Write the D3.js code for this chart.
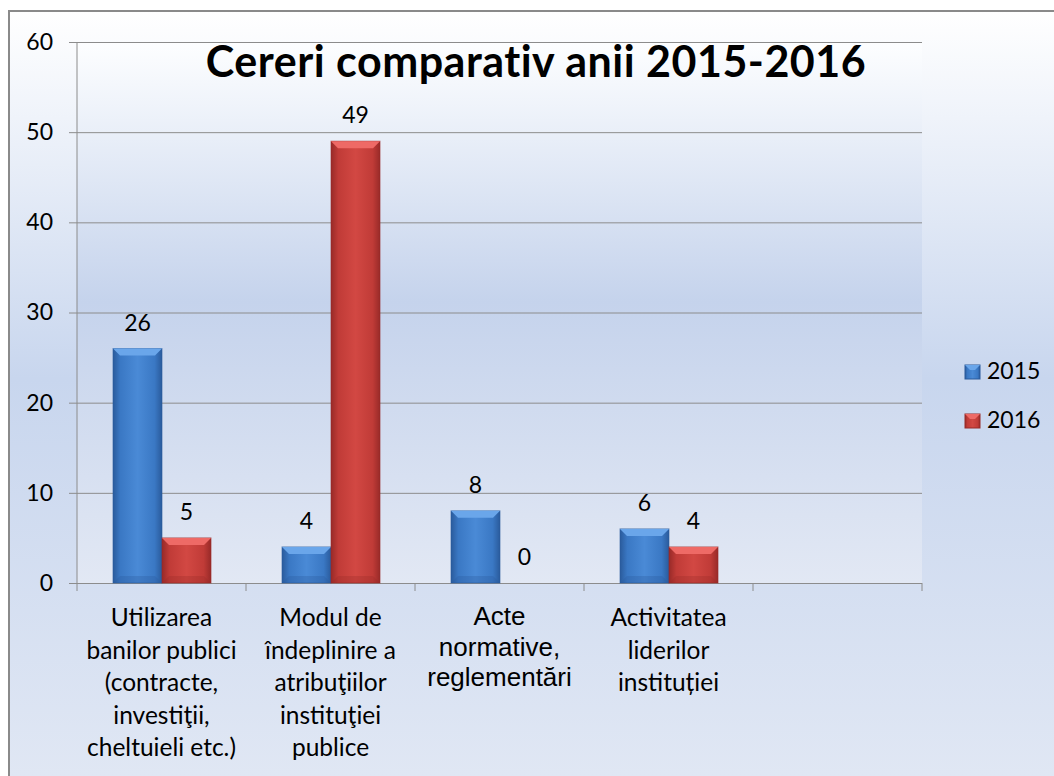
<!DOCTYPE html>
<html>
<head>
<meta charset="utf-8">
<script src="https://cdn.jsdelivr.net/npm/d3@7"></script>
<style>
  body { margin: 0; background: #fff; }
  svg { display: block; }
</style>
</head>
<body>
<div class="chart"></div>
<script>
// data
const categories = [
  ["Utilizarea", "banilor publici", "(contracte,", "investiţii,", "cheltuieli etc.)"],
  ["Modul de", "îndeplinire a", "atribuţiilor", "instituţiei", "publice"],
  ["Acte", "normative,", "reglementări"],
  ["Activitatea", "liderilor", "instituției"],
  []
];
const seriesNames = ["2015", "2016"];
const values2015 = [26, 4, 8, 6, null];
const values2016 = [5, 49, 0, 4, null];
const yTicks = [0, 10, 20, 30, 40, 50, 60];
const title = "Cereri comparativ anii 2015-2016";

const width = 1054;
const height = 776;
const plot = { left: 77, right: 922, top: 42, bottom: 583 };
const font = "Lato, 'Open Sans', sans-serif";

const svg = d3.select(".chart")
  .append("svg")
  .attr("width", width)
  .attr("height", height);

const defs = svg.append("defs");

// background gradients
const bg = defs.append("linearGradient").attr("id", "bg")
  .attr("x1", 0).attr("y1", 0).attr("x2", 0).attr("y2", 1);
bg.append("stop").attr("offset", "0%").attr("stop-color", "#ffffff");
bg.append("stop").attr("offset", "48%").attr("stop-color", "#c8d6ee");
bg.append("stop").attr("offset", "100%").attr("stop-color", "#e0e7f4");

const pg = defs.append("linearGradient").attr("id", "plotbg")
  .attr("x1", 0).attr("y1", 0).attr("x2", 0).attr("y2", 1);
pg.append("stop").attr("offset", "0%").attr("stop-color", "#fdfeff");
pg.append("stop").attr("offset", "48%").attr("stop-color", "#c5d3ec");
pg.append("stop").attr("offset", "100%").attr("stop-color", "#e2e8f4");

// bar gradients (left-right shading)
const barColors = {
  "2015": { light: "#4a8ad6", mid: "#3a78c4", dark: "#2a5b9c", top: "#6aa6ea" },
  "2016": { light: "#d24843", mid: "#c03b37", dark: "#982a28", top: "#ee6a66" }
};
seriesNames.forEach(s => {
  const g = defs.append("linearGradient").attr("id", "bar" + s)
    .attr("x1", 0).attr("y1", 0).attr("x2", 1).attr("y2", 0);
  g.append("stop").attr("offset", "0%").attr("stop-color", barColors[s].dark);
  g.append("stop").attr("offset", "15%").attr("stop-color", barColors[s].mid);
  g.append("stop").attr("offset", "50%").attr("stop-color", barColors[s].light);
  g.append("stop").attr("offset", "85%").attr("stop-color", barColors[s].mid);
  g.append("stop").attr("offset", "100%").attr("stop-color", barColors[s].dark);
});

svg.append("rect")
  .attr("x", 9).attr("y", 11)
  .attr("width", width - 9).attr("height", height - 11)
  .attr("fill", "url(#bg)");

svg.append("rect")
  .attr("x", plot.left).attr("y", plot.top)
  .attr("width", plot.right - plot.left).attr("height", plot.bottom - plot.top)
  .attr("fill", "url(#plotbg)");

// outer frame (only top and left visible)
svg.append("path")
  .attr("d", `M9,${height} V11 H${width}`)
  .attr("fill", "none")
  .attr("stroke", "#8a8a8a")
  .attr("stroke-width", 2);

// scales
const x0 = d3.scaleBand()
  .domain(d3.range(categories.length))
  .range([plot.left, plot.right])
  .padding(0);

const bw = x0.bandwidth();
const x1 = d3.scaleBand()
  .domain(seriesNames)
  .range([bw * 0.213, bw * 0.213 + bw * 0.58])
  .padding(0);

const y = d3.scaleLinear()
  .domain([0, 60])
  .range([plot.bottom, plot.top]);

// gridlines + y axis
const yAxis = svg.append("g")
  .attr("transform", `translate(${plot.left},0)`)
  .call(d3.axisLeft(y).tickValues(yTicks).tickSize(8).tickPadding(16));
yAxis.select(".domain").remove();
yAxis.selectAll(".tick line")
  .attr("x2", plot.right - plot.left)
  .attr("x1", -8)
  .attr("stroke", "#8c8c8c");
yAxis.selectAll(".tick text")
  .attr("font-family", font)
  .attr("font-size", 23)
  .attr("fill", "#000");

svg.append("line")
  .attr("x1", plot.left).attr("x2", plot.left)
  .attr("y1", plot.top).attr("y2", plot.bottom)
  .attr("stroke", "#8c8c8c");

// category tick marks below the axis
svg.append("g")
  .attr("transform", `translate(0,${plot.bottom})`)
  .selectAll("line")
  .data(d3.range(categories.length + 1))
  .enter().append("line")
  .attr("x1", i => plot.left + i * bw)
  .attr("x2", i => plot.left + i * bw)
  .attr("y1", 0).attr("y2", 8)
  .attr("stroke", "#8c8c8c");

// bars
const rows = categories.map((c, i) => ({
  i: i,
  vals: [
    { s: "2015", v: values2015[i] },
    { s: "2016", v: values2016[i] }
  ]
}));

const groups = svg.selectAll("g.group")
  .data(rows)
  .enter().append("g")
  .attr("class", "group")
  .attr("transform", d => `translate(${x0(d.i)},0)`);

const bars = groups.selectAll("g.bar")
  .data(d => d.vals.filter(v => v.v !== null))
  .enter().append("g")
  .attr("class", "bar");

const barW = x1.bandwidth();
const bevel = 7;

bars.filter(d => d.v > 0)
  .append("rect")
  .attr("x", d => x1(d.s))
  .attr("y", d => y(d.v))
  .attr("width", barW)
  .attr("height", d => y(0) - y(d.v))
  .attr("fill", d => `url(#bar${d.s})`)
  .attr("stroke", d => barColors[d.s].dark)
  .attr("stroke-opacity", 0.6)
  .attr("stroke-width", 1);

// top bevel
bars.filter(d => d.v > 0)
  .append("path")
  .attr("d", d => {
    const xl = x1(d.s), xr = xl + barW, yt = y(d.v);
    const b = Math.min(bevel, (y(0) - yt) / 2);
    return `M${xl},${yt} H${xr} L${xr - b},${yt + b} H${xl + b} Z`;
  })
  .attr("fill", d => barColors[d.s].top);

// bottom shade
bars.filter(d => d.v > 0)
  .append("path")
  .attr("d", d => {
    const xl = x1(d.s), xr = xl + barW, yb = y(0);
    const b = Math.min(bevel, (y(0) - y(d.v)) / 2);
    return `M${xl},${yb} H${xr} L${xr - b},${yb - b} H${xl + b} Z`;
  })
  .attr("fill", d => barColors[d.s].dark)
  .attr("opacity", 0.3);

// value labels
bars.append("text")
  .attr("x", d => x1(d.s) + barW / 2)
  .attr("y", d => y(d.v) - 26)
  .attr("dy", "0.35em")
  .attr("text-anchor", "middle")
  .attr("font-family", font)
  .attr("font-size", 23)
  .attr("fill", "#000")
  .text(d => d.v);

// category labels (the third one is in an Arial-like face in the original)
const catLabels = svg.selectAll("text.cat")
  .data(rows)
  .enter().append("text")
  .attr("class", "cat")
  .attr("text-anchor", "middle")
  .attr("font-family", d => d.i === 2 ? "'Liberation Sans', Arial, sans-serif" : font)
  .attr("font-size", d => d.i === 2 ? 26 : 24.5)
  .attr("fill", "#000");

catLabels.selectAll("tspan")
  .data(d => categories[d.i].map(t => ({ t: t, i: d.i })))
  .enter().append("tspan")
  .attr("x", d => x0(d.i) + bw / 2)
  .attr("y", (d, j) => d.i === 2 ? 625 + j * 30.5 : 626 + j * 32.5)
  .text(d => d.t);

// title
svg.append("text")
  .attr("x", 536)
  .attr("y", 77)
  .attr("text-anchor", "middle")
  .attr("font-family", font)
  .attr("font-weight", "bold")
  .attr("font-size", 43)
  .attr("letter-spacing", 0.5)
  .attr("fill", "#000")
  .text(title);

// legend
const legend = svg.selectAll("g.legend")
  .data(seriesNames)
  .enter().append("g")
  .attr("class", "legend")
  .attr("transform", (d, i) => `translate(965,${365 + i * 49})`);

legend.append("rect")
  .attr("width", 15).attr("height", 14)
  .attr("fill", d => `url(#bar${d})`)
  .attr("stroke", d => barColors[d].dark)
  .attr("stroke-width", 1);
legend.append("path")
  .attr("d", "M0,0 H15 L10,5 H5 Z")
  .attr("fill", d => barColors[d].top);
legend.append("text")
  .attr("x", 22)
  .attr("y", 14)
  .attr("font-family", font)
  .attr("font-size", 23)
  .attr("fill", "#000")
  .text(d => d);
</script>
</body>
</html>
